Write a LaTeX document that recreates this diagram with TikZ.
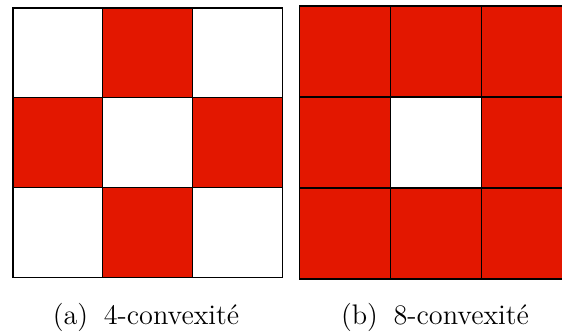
\documentclass[tikz,border=0pt]{standalone}
\usetikzlibrary{positioning}
\definecolor{cellred}{RGB}{227,23,0}

\begin{document}
\begin{tikzpicture}[
  x=0.0138cm,y=-0.0138cm,
  emptycell/.style={draw=black,fill=white,line width=0.45pt},
  redcell/.style={draw=black,fill=cellred,line width=0.45pt},
  caption/.style={anchor=base,font=\fontsize{11.1}{13}\selectfont}
]
\useasboundingbox (0,0) rectangle (562,331);
\clip (0,0) rectangle (562,331);

% (a) 4-convexite
\foreach \r in {0,1,2}{
  \foreach \c in {0,1,2}{
    \pgfmathsetmacro{\x}{13+89.7*\c}
    \pgfmathsetmacro{\y}{8+89.7*\r}
    \pgfmathtruncatemacro{\odd}{mod(\r+\c,2)}
    \ifnum\odd=1
      \draw[redcell] (\x,\y) rectangle ++(89.7,89.7);
    \else
      \draw[emptycell] (\x,\y) rectangle ++(89.7,89.7);
    \fi
  }
}

% (b) 8-convexite
\foreach \r in {0,1,2}{
  \foreach \c in {0,1,2}{
    \pgfmathsetmacro{\x}{299.3+91.1*\c}
    \pgfmathsetmacro{\y}{6+91*\r}
    \pgfmathtruncatemacro{\mid}{(\r==1)&&(\c==1)}
    \ifnum\mid=1
      \draw[emptycell] (\x,\y) rectangle ++(91.1,91);
    \else
      \draw[redcell] (\x,\y) rectangle ++(91.1,91);
    \fi
  }
}

\node[caption] (capa) at (146,324) {(a)\hspace{0.55em}4-convexité};
\node[caption] (capb) at (435,324) {(b)\hspace{0.55em}8-convexité};
\end{tikzpicture}
\end{document}
